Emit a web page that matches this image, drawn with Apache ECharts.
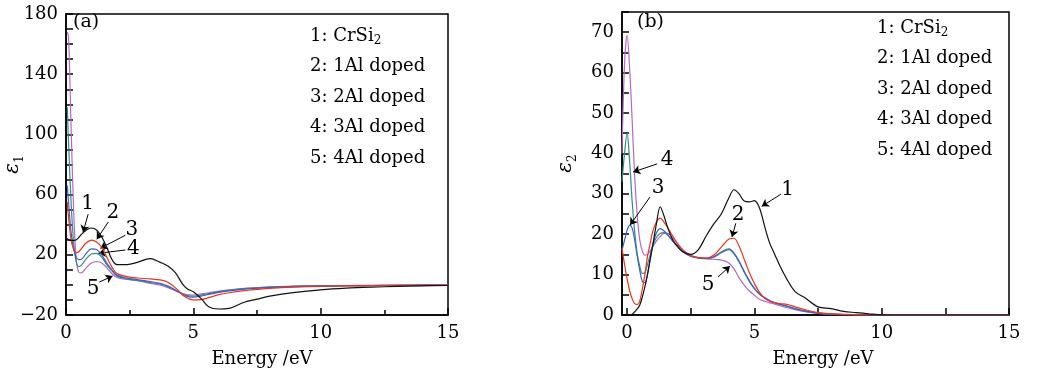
<!DOCTYPE html>
<html>
<head>
<meta charset="utf-8">
<script src="https://cdn.jsdelivr.net/npm/echarts@6/dist/echarts.min.js"></script>
<style>
	html, body { margin: 0; padding: 0; background: #fff; }
	#chart { width: 1043px; height: 373px; }
</style>
</head>
<body>
<div id="chart"></div>
<script>
// 图(a) 介电函数实部 ε1
var energyA = [0.05, 0.1, 0.2, 0.3, 0.4, 0.5, 0.6, 0.8, 1.0, 1.2, 1.4, 1.6, 1.8, 2.0, 2.4, 2.8, 3.3, 3.7, 4.0, 4.3, 4.6, 4.8, 5.0, 5.3, 5.6, 6.0, 6.4, 7.0, 7.5, 8.0, 9.0, 10, 11, 12, 13, 14, 15];
var eps1Cr = [31, 30, 29.5, 29.5, 30, 31.5, 33.5, 36.5, 37.8, 36.5, 32, 25, 17, 13.5, 13.5, 15, 17.5, 15, 12.5, 8, 0, -3, -4.5, -9, -14.5, -16, -15.6, -11.5, -9.5, -7.5, -5, -3.3, -2.2, -1.5, -1, -0.6, -0.4];
var eps1Al1 = [55, 45, 30, 23.5, 21.5, 22, 24, 28, 29.8, 28.5, 25, 18.5, 12, 7.5, 5.5, 4.6, 4, 3.3, 1.8, -2, -7, -9, -10, -9.8, -8.5, -6.5, -5.2, -3.8, -3, -2.3, -1.5, -1, -0.7, -0.5, -0.3, -0.2, -0.2];
var eps1Al2 = [66, 55, 35, 24, 18.5, 16.8, 17, 21, 24, 23.5, 20, 14.5, 10, 6.5, 4.5, 3.5, 2.2, 1, -0.8, -3.5, -6.5, -7.8, -8.2, -7.5, -6.3, -5, -4, -2.8, -2.2, -1.6, -1, -0.7, -0.5, -0.4, -0.3, -0.2, -0.2];
var eps1Al3 = [118, 95, 55, 28, 15.5, 12.2, 13, 17.5, 20.5, 21, 18.5, 13.5, 9.5, 6, 4, 3, 1.6, 0.6, -1, -3.5, -6, -7.2, -7.5, -6.8, -5.8, -4.5, -3.6, -2.5, -2, -1.5, -1, -0.7, -0.5, -0.4, -0.3, -0.2, -0.2];
var eps1Al4 = [168, 165, 105, 50, 17, 8.5, 8, 11.5, 14.5, 15.5, 14.5, 11.5, 7.5, 5, 3.6, 2.8, 1, -0.2, -1.8, -4, -6, -6.6, -6.7, -6, -5.2, -4.1, -3.3, -2.3, -1.8, -1.3, -0.8, -0.5, -0.4, -0.3, -0.2, -0.1, -0.1];

// 图(b) 介电函数虚部 ε2
var energyB = [-0.2, -0.1, 0, 0.1, 0.2, 0.3, 0.4, 0.5, 0.6, 0.7, 0.8, 0.9, 1.0, 1.15, 1.3, 1.45, 1.6, 1.8, 2.0, 2.2, 2.5, 2.8, 3.1, 3.4, 3.7, 4.0, 4.2, 4.4, 4.6, 4.8, 5.0, 5.2, 5.4, 5.6, 5.8, 6.0, 6.3, 6.6, 7.0, 7.5, 8.0, 8.5, 9.0, 9.5, 10, 11, 12, 13, 14, 15];
var eps2Cr = [null, null, null, 0, 0.2, 0.8, 1.5, 2.5, 4.5, 7, 10, 13.5, 17, 22.5, 26.8, 24.5, 21.5, 18.5, 16.8, 15.6, 15, 16.2, 19.5, 22.5, 25, 29, 31, 30, 28.2, 28, 28.3, 26.5, 22, 17.8, 15, 12.2, 8.6, 5.8, 4.2, 2, 1.6, 0.9, 0.6, 0.3, 0.05, 0, 0, 0, 0, 0];
var eps2Al1 = [16.5, 12.5, 9, 6, 4, 2.8, 2.6, 3.5, 6.5, 10, 14.5, 17.5, 20.5, 23, 24, 23, 21.6, 19.5, 17.5, 16, 14.6, 14.2, 14.1, 14.8, 16.8, 18.8, 19, 17, 13.8, 10.5, 7.8, 5.6, 4.2, 3.4, 3, 2.8, 2.6, 2, 1.3, 0.6, 0.3, 0.15, 0.1, 0.05, 0, 0, 0, 0, 0, 0];
var eps2Al2 = [16, 18.5, 21, 22.2, 21.5, 18.5, 14.5, 11, 8.3, 8, 10, 13.6, 17, 20.3, 21.4, 20.8, 19.8, 18.2, 16.8, 15.6, 14.5, 14.1, 14, 14.4, 15.6, 16.4, 15.3, 13.3, 10.8, 8.5, 6.6, 5.2, 4.3, 3.6, 3.1, 2.7, 2.2, 1.6, 1, 0.5, 0.25, 0.1, 0.05, 0, 0, 0, 0, 0, 0, 0];
var eps2Al3 = [33, 40, 45, 38, 28, 20.5, 15, 12, 10.3, 10.5, 12.5, 14.8, 17, 19.2, 20.2, 20.4, 19.8, 18.3, 17, 15.8, 14.7, 14.2, 14, 14.3, 15.4, 16.2, 15.1, 13.1, 10.6, 8.3, 6.5, 5.1, 4.2, 3.5, 3, 2.6, 2.1, 1.5, 0.9, 0.45, 0.2, 0.1, 0.05, 0, 0, 0, 0, 0, 0, 0];
var eps2Al4 = [40, 62, 69.3, 61, 48, 34, 24.5, 18.5, 15.8, 14.8, 15, 15.8, 16.8, 18.3, 19.4, 20.2, 20.2, 19, 17.5, 16.1, 14.8, 14.1, 13.9, 13.8, 13.6, 12.9, 11.4, 9.2, 7.4, 6, 4.9, 3.9, 3.4, 3, 2.7, 2.3, 1.8, 1.3, 0.8, 0.4, 0.2, 0.1, 0.05, 0, 0, 0, 0, 0, 0, 0];

var legendText = ['1: CrSi{s|2}', '2: 1Al doped', '3: 2Al doped', '4: 3Al doped', '5: 4Al doped'];
var curveTags = ['1', '2', '3', '4', '5'];
var colors = ['#111111', '#f0301e', '#3f5fc0', '#2f8f80', '#b468c8'];

// 标注箭头 (数据坐标)
var tagPosA = [[0.85, 53.8], [1.84, 47.6], [2.59, 36.5], [2.65, 23.7], [1.06, -2.3]];
var arrowFromA = [[0.87, 47], [1.66, 41.8], [2.33, 33], [2.33, 23.2], [1.31, 1.9]];
var arrowToA = [[0.67, 35], [1.21, 30.3], [1.35, 24.3], [1.28, 21], [1.83, 5.9]];
var tagPosB = [[6.3, 31.1], [4.36, 24.7], [1.22, 31.6], [1.57, 38.4], [3.18, 7.4]];
var arrowFromB = [[6.04, 29.9], [4.27, 22.7], [0.9, 29.2], [1.18, 37.4], [3.57, 9.4]];
var arrowToB = [[5.29, 26.9], [4.12, 19.3], [0.12, 22.3], [0.24, 35.4], [4.04, 12.1]];

var FONT = 'DejaVu Serif';

var zip = function(xs, ys) {
	var out = [];
	for (var i = 0; i < xs.length; i++) {
		out.push([xs[i], ys[i]]);
	}
	return out;
};

var minus = function(v) {
	return String(v).replace('-', '\u2212');
};

var makeCurves = function(idx, energy, sets) {
	var list = [];
	for (var i = 0; i < sets.length; i++) {
		list.push({
			type: 'line',
			xAxisIndex: idx,
			yAxisIndex: idx,
			data: zip(energy, sets[i]),
			showSymbol: false,
			smooth: 0.35,
			connectNulls: false,
			lineStyle: { color: colors[i], width: 1.2 },
			itemStyle: { color: colors[i] },
			z: 7 - i,
			silent: true
		});
	}
	return list;
};

// 曲线编号与箭头
var makeTags = function(idx, pos, from, to) {
	var lines = [];
	for (var i = 0; i < from.length; i++) {
		lines.push([{ coord: from[i] }, { coord: to[i] }]);
	}
	return {
		type: 'scatter',
		xAxisIndex: idx,
		yAxisIndex: idx,
		data: pos.map(function(p, i) { return { value: p, name: curveTags[i] }; }),
		symbolSize: 1,
		itemStyle: { color: '#fff', opacity: 1 },
		label: {
			show: true,
			position: 'inside',
			formatter: '{b}',
			color: '#000',
			opacity: 1,
			textBorderWidth: 0,
			fontFamily: FONT,
			fontSize: 20
		},
		emphasis: { disabled: true },
		silent: true,
		z: 20,
		markLine: {
			silent: true,
			symbol: ['none', 'arrow'],
			symbolSize: 7,
			label: { show: false },
			lineStyle: { color: '#000', width: 1, type: 'solid' },
			data: lines
		}
	};
};

var axisText = { color: '#000', fontFamily: FONT, fontSize: 18 };
var subRich = {
	e: { fontFamily: FONT, fontSize: 20, fontStyle: 'italic', color: '#000', lineHeight: 26 },
	s: { fontFamily: FONT, fontSize: 12, color: '#000', verticalAlign: 'bottom', lineHeight: 12 }
};

var xAxisBase = function(idx, shift) {
	return {
		gridIndex: idx,
		type: 'value',
		max: 15,
		name: 'Energy /eV',
		nameLocation: 'middle',
		nameGap: 35,
		nameTextStyle: { color: '#000', fontFamily: FONT, fontSize: 18, padding: [0, 0, 0, shift] },
		axisLine: { onZero: false, lineStyle: { color: '#000', width: 1.5 } },
		axisTick: { inside: true, length: 7, lineStyle: { color: '#000', width: 1.5 } },
		splitLine: { show: false }
	};
};

var xA = xAxisBase(0, 10);
xA.min = 0;
xA.interval = 5;
xA.minorTick = { show: true, splitNumber: 2, length: 5, lineStyle: { color: '#000', width: 1.5 } };
xA.axisLabel = Object.assign({ margin: 9 }, axisText);

var xB = xAxisBase(1, 15);
xB.min = -0.2;
xB.axisTick.customValues = [0, 2.5, 5, 7.5, 10, 12.5, 15];
xB.axisLabel = Object.assign({ margin: 9, customValues: [0, 5, 10, 15] }, axisText);

var gridStyle = {
	show: true,
	borderColor: '#000',
	borderWidth: 1.5,
	backgroundColor: 'rgba(0,0,0,0)',
	containLabel: false,
	outerBoundsMode: 'none'
};

var legendBlock = function(left, top) {
	return legendText.map(function(t, i) {
		return {
			type: 'text',
			left: left,
			top: top + i * 30.6,
			style: {
				text: t,
				fill: '#000',
				font: '18px "' + FONT + '"',
				lineHeight: 22,
				rich: {
					s: { font: '12px "' + FONT + '"', fill: '#000', verticalAlign: 'bottom', lineHeight: 12 }
				}
			},
			z: 30
		};
	});
};

var myChart = echarts.init(document.getElementById('chart'));
myChart.setOption({
	backgroundColor: '#fff',
	animation: false,
	grid: [
		Object.assign({ left: 66, top: 14, width: 382, height: 301 }, gridStyle),
		Object.assign({ left: 622, top: 12, width: 387, height: 303 }, gridStyle)
	],
	xAxis: [xA, xB],
	yAxis: [{
		gridIndex: 0,
		type: 'value',
		min: -20,
		max: 180,
		interval: 10,
		name: '{e|ε}{s|1}',
		nameLocation: 'middle',
		nameRotate: 90,
		nameGap: 40,
		nameMoveOverlap: false,
		nameTextStyle: { rich: subRich },
		axisLine: { onZero: false, lineStyle: { color: '#000', width: 1.5 } },
		axisTick: { inside: true, length: 7, lineStyle: { color: '#000', width: 1.5 } },
		axisLabel: Object.assign({
			margin: 8,
			formatter: function(v) { return (v + 20) % 40 === 0 ? minus(v) : ''; }
		}, axisText),
		splitLine: { show: false }
	}, {
		gridIndex: 1,
		type: 'value',
		min: 0,
		max: 75,
		interval: 5,
		name: '{e|ε}{s|2}',
		nameLocation: 'middle',
		nameRotate: 90,
		nameGap: 43,
		nameMoveOverlap: false,
		nameTextStyle: { rich: subRich },
		axisLine: { onZero: false, lineStyle: { color: '#000', width: 1.5 } },
		axisTick: { inside: true, length: 7, lineStyle: { color: '#000', width: 1.5 } },
		axisLabel: Object.assign({
			margin: 8,
			formatter: function(v) { return v % 10 === 0 ? String(v) : ''; }
		}, axisText),
		splitLine: { show: false }
	}],
	graphic: [
		{ type: 'text', left: 73, top: 13, style: { text: '(a)', fill: '#000', font: '19px "' + FONT + '"' }, z: 30 },
		{ type: 'text', left: 637, top: 13, style: { text: '(b)', fill: '#000', font: '19px "' + FONT + '"' }, z: 30 }
	].concat(legendBlock(310, 25)).concat(legendBlock(877, 17)),
	series: [].concat(
		makeCurves(0, energyA, [eps1Cr, eps1Al1, eps1Al2, eps1Al3, eps1Al4]),
		makeCurves(1, energyB, [eps2Cr, eps2Al1, eps2Al2, eps2Al3, eps2Al4]),
		[makeTags(0, tagPosA, arrowFromA, arrowToA), makeTags(1, tagPosB, arrowFromB, arrowToB)]
	)
});
</script>
</body>
</html>
